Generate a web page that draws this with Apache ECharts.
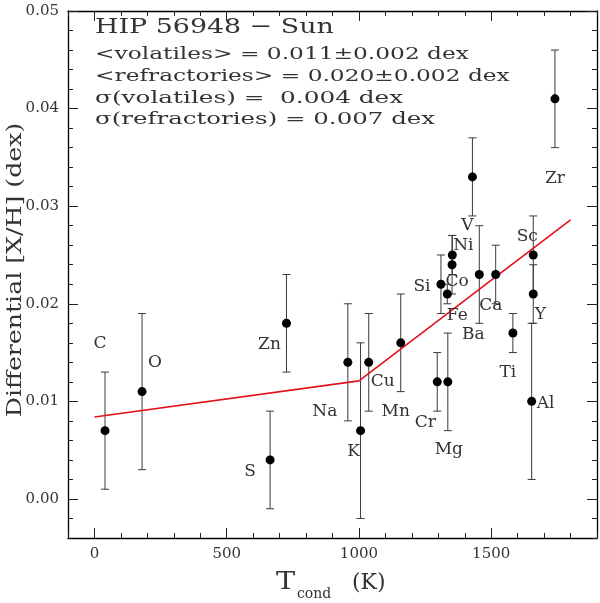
<!DOCTYPE html>
<html>
<head>
<meta charset="utf-8">
<script src="https://cdn.jsdelivr.net/npm/echarts@6/dist/echarts.min.js"></script>
<style>
html,body{margin:0;padding:0;background:#fff;}
#chart{width:600px;height:603px;}
</style>
</head>
<body>
<div id="chart"></div>
<script>
// ---- data ----
const elements = ['C','O','S','Zn','Na','K','Cu','Mn','Cr','Mg','Si','Fe','Co','Ni','V','Ba','Ca','Ti','Sc','Y','Al','Zr'];
const tcond    = [40,180,664,726,958,1006,1037,1158,1296,1336,1310,1334,1352,1353,1429,1455,1517,1582,1659,1659,1653,1741];
const abund    = [0.007,0.011,0.004,0.018,0.014,0.007,0.014,0.016,0.012,0.012,0.022,0.021,0.024,0.025,0.033,0.023,0.023,0.017,0.025,0.021,0.010,0.041];
const errs     = [0.006,0.008,0.005,0.005,0.006,0.009,0.005,0.005,0.003,0.005,0.003,0.001,0.003,0.002,0.004,0.005,0.003,0.002,0.004,0.003,0.008,0.005];
const fitT = [0, 1000, 1800];
const fitY = [0.0084, 0.0121, 0.0286];
const xMajorTicks = [0, 500, 1000, 1500];
const yMajorTicks = [0, 0.01, 0.02, 0.03, 0.04, 0.05];
const xMinorTicks = [];
for (let k = -1; k <= 19; k++) xMinorTicks.push(k * 100);
const yMinorTicks = [];
for (let k = -2; k <= 25; k++) yMinorTicks.push(Math.round(k * 2) / 1000);
const infoLines = [
  'HIP 56948 \u2212 Sun',
  '<volatiles> = 0.011\u00b10.002 dex',
  '<refractories> = 0.020\u00b10.002 dex',
  '\u03c3(volatiles) =  0.004 dex',
  '\u03c3(refractories) = 0.007 dex'
];

// ---- layout / style ----
const FONT = '"DejaVu Serif", serif';
const TXT = '#333';
const labelOffsets = {
  C:[-5,-87], O:[13,-29], S:[-20,12], Zn:[-17,21], Na:[-23,49], K:[-7,21], Cu:[14,19],
  Mn:[-5,69], Cr:[-12,41], Mg:[1,68], Zr:[0,80], V:[-5,49], Ni:[11,-9], Co:[5,17],
  Si:[-19,2], Fe:[10,22], Ba:[-6,60], Ca:[-5,31], Sc:[-6,-18], Y:[7,21], Ti:[-5,40], Al:[14,2]
};
const XMIN = -100, XMAX = 1900, YMIN = -0.004, YMAX = 0.05;

function xAx(pos, major) {
  return {
    type: 'value', min: XMIN, max: XMAX, position: pos,
    axisLine: { show: major, onZero: false, lineStyle: { color: '#000', width: 1.3 } },
    axisTick: { show: true, inside: true, length: major ? 10 : 5, customValues: major ? xMajorTicks : xMinorTicks,
                lineStyle: { color: '#222', width: 1 } },
    axisLabel: { show: major && pos === 'bottom', customValues: xMajorTicks, margin: 9,
                 fontFamily: FONT, fontSize: 15, color: TXT, formatter: v => String(v) },
    splitLine: { show: false }
  };
}
function yAx(pos, major) {
  return {
    type: 'value', min: YMIN, max: YMAX, position: pos,
    axisLine: { show: major, onZero: false, lineStyle: { color: '#000', width: 1.3 } },
    axisTick: { show: true, inside: true, length: major ? 10 : 5, customValues: major ? yMajorTicks : yMinorTicks,
                lineStyle: { color: '#222', width: 1 } },
    axisLabel: { show: major && pos === 'left', customValues: yMajorTicks, margin: 9,
                 fontFamily: FONT, fontSize: 15, color: TXT, formatter: v => v.toFixed(2) },
    splitLine: { show: false }
  };
}

const errData = elements.map((e, i) => [tcond[i], abund[i], errs[i]]);
const ptData = elements.map((e, i) => ({
  name: e, value: [tcond[i], abund[i]],
  label: { offset: labelOffsets[e] }
}));
const fitData = fitT.map((t, i) => [t, fitY[i]]);

const graphics = [];
const infoY = [28, 55, 77, 98.5, 120];
const infoSize = [21, 17, 17, 17, 17];
const infoScale = [1.28, 1.37, 1.37, 1.455, 1.44];
infoLines.forEach((s, i) => {
  graphics.push({ type: 'text', x: 95, y: infoY[i], scaleX: infoScale[i],
    style: { text: s, font: infoSize[i] + 'px ' + FONT, fill: TXT, textAlign: 'left', textVerticalAlign: 'middle' } });
});
graphics.push({ type: 'text', x: 16, y: 270, rotation: Math.PI / 2, scaleX: 1.2,
  style: { text: 'Differential [X/H] (dex)', font: '21px ' + FONT, fill: TXT, textAlign: 'center', textVerticalAlign: 'middle' } });
graphics.push({ type: 'text', x: 276, y: 583, scaleX: 1.2,
  style: { text: 'T', font: '24px ' + FONT, fill: TXT, textAlign: 'left', textVerticalAlign: 'middle' } });
graphics.push({ type: 'text', x: 297, y: 594, scaleX: 1.0,
  style: { text: 'cond', font: '14px ' + FONT, fill: TXT, textAlign: 'left', textVerticalAlign: 'middle' } });
graphics.push({ type: 'text', x: 352, y: 583, scaleX: 1.0,
  style: { text: '(K)', font: '22px ' + FONT, fill: TXT, textAlign: 'left', textVerticalAlign: 'middle' } });

const chart = echarts.init(document.getElementById('chart'), null, { renderer: 'canvas' });
chart.setOption({
  animation: false,
  backgroundColor: '#fff',
  grid: { left: 68, right: 3, top: 11, bottom: 65 },
  xAxis: [xAx('bottom', true), xAx('bottom', false), xAx('top', true), xAx('top', false)],
  yAxis: [yAx('left', true), yAx('left', false), yAx('right', true), yAx('right', false)],
  graphic: graphics,
  series: [
    {
      type: 'custom', xAxisIndex: 0, yAxisIndex: 0, z: 2,
      data: errData,
      renderItem: function (params, api) {
        const x = api.value(0), y = api.value(1), e = api.value(2);
        const top = api.coord([x, y + e]);
        const bot = api.coord([x, y - e]);
        const h = 4;
        const st = { stroke: '#3a3a3a', lineWidth: 1 };
        return { type: 'group', children: [
          { type: 'line', shape: { x1: top[0], y1: top[1], x2: bot[0], y2: bot[1] }, style: st },
          { type: 'line', shape: { x1: top[0] - h, y1: top[1], x2: top[0] + h, y2: top[1] }, style: st },
          { type: 'line', shape: { x1: bot[0] - h, y1: bot[1], x2: bot[0] + h, y2: bot[1] }, style: st }
        ] };
      }
    },
    {
      type: 'line', xAxisIndex: 0, yAxisIndex: 0, z: 3,
      data: fitData, showSymbol: false, symbol: 'none',
      lineStyle: { color: '#e3101a', width: 1.6 }
    },
    {
      type: 'scatter', xAxisIndex: 0, yAxisIndex: 0, z: 4,
      data: ptData, symbol: 'circle', symbolSize: 9,
      itemStyle: { color: '#000', opacity: 1 },
      label: { show: true, position: 'inside', formatter: '{b}', fontFamily: FONT, fontSize: 17, color: TXT,
               align: 'center', verticalAlign: 'middle' }
    }
  ]
});
</script>
</body>
</html>
